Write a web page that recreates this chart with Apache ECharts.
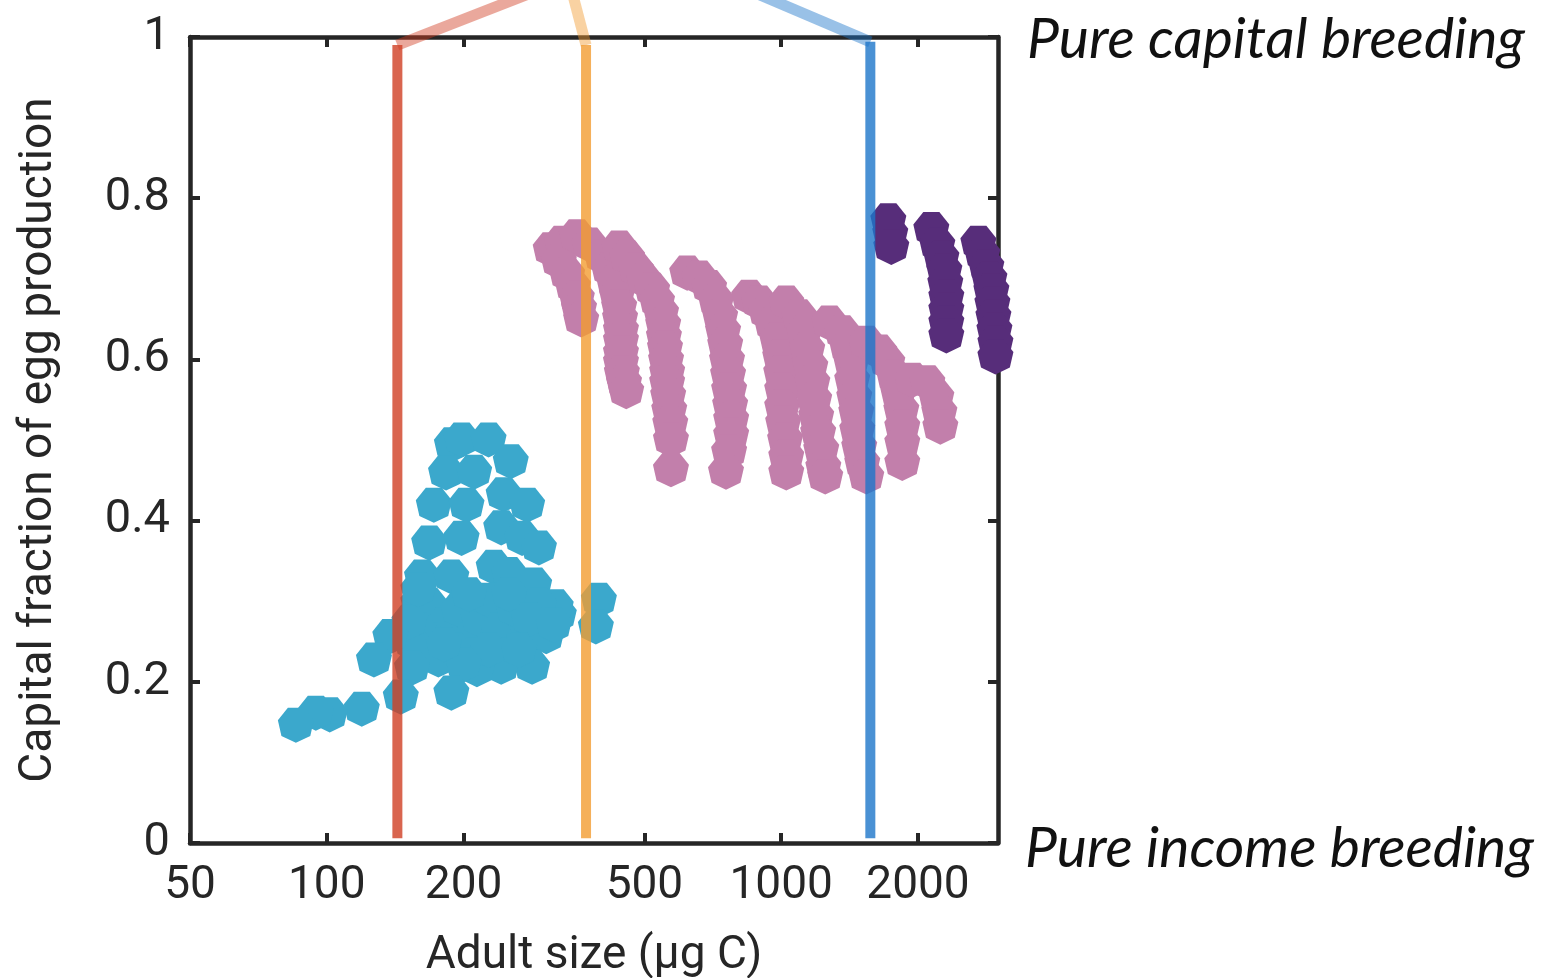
<!DOCTYPE html>
<html>
<head>
<meta charset="utf-8">
<script src="https://cdn.jsdelivr.net/npm/echarts@6.0.0/dist/echarts.min.js"></script>
<style>
  html, body { margin: 0; padding: 0; background: #fff; }
  #chart { width: 1548px; height: 978px; }
</style>
</head>
<body>
<div id="chart"></div>
<script>
// axis ranges and ticks (x in µg C, log scale)
const xMin = 50, xMax = 3000;
const xTicks = [50, 100, 200, 500, 1000, 2000];

// blue-green cloud  [adult size, capital fraction]
const cyanPoints = [
  [188.5, 0.494], [198, 0.500], [227, 0.500], [183, 0.459], [211, 0.460], [254, 0.473],
  [172, 0.419], [203, 0.419], [245, 0.432], [276, 0.419],
  [168, 0.372], [198, 0.378], [242, 0.391], [269, 0.378], [293, 0.366],
  [162, 0.330], [188, 0.330], [233, 0.342], [252, 0.333], [286, 0.320],
  [397, 0.301], [391, 0.268], [324, 0.283], [319, 0.293],
  [159, 0.298], [168, 0.295], [181, 0.270], [195, 0.289], [205.5, 0.252], [216, 0.277],
  [227, 0.301], [239, 0.264], [258, 0.289], [272, 0.252], [293, 0.295], [304, 0.256],
  [190.5, 0.239], [211, 0.233], [252, 0.233], [168, 0.252], [159, 0.264], [154, 0.248],
  [176, 0.227], [154, 0.217], [283, 0.218], [242, 0.218], [214, 0.215], [152, 0.274],
  [159, 0.314], [205.5, 0.308], [252, 0.308], [279, 0.277], [316, 0.270],
  [227, 0.239], [200, 0.221], [265, 0.239], [181, 0.246],
  [188, 0.186], [145.5, 0.181], [138, 0.256], [127, 0.227],
  [119.4, 0.166], [101.5, 0.159], [94.6, 0.161], [85.5, 0.146]
];

// pink hooks, one array per chain
const pinkChain1 = [[311, 0.736], [329, 0.744], [324, 0.721], [338, 0.705], [348, 0.690], [355, 0.676], [359, 0.663], [363, 0.649]];
const pinkChain2 = [[355, 0.752], [378, 0.742], [403, 0.727], [418, 0.711], [429, 0.695], [435, 0.680], [440, 0.665], [442, 0.651],
  [444, 0.636], [444, 0.623], [444, 0.608], [444, 0.596], [446, 0.583], [451, 0.571], [456, 0.560]];
const pinkChain3 = [[440, 0.738], [458, 0.726], [479, 0.711], [499, 0.698], [520, 0.686], [533, 0.672], [544, 0.658], [550, 0.643],
  [552, 0.628], [555, 0.614], [558, 0.599], [561, 0.584], [561, 0.571], [564, 0.555], [567, 0.537], [570, 0.520], [572, 0.500], [572, 0.463]];
const pinkChain4 = [[621, 0.707], [660, 0.701], [694, 0.689], [719, 0.672], [734, 0.653], [745, 0.635], [753, 0.618], [760, 0.599],
  [764, 0.581], [768, 0.562], [772, 0.543], [776, 0.525], [776, 0.506], [768, 0.485], [756, 0.460]];
const pinkChain5 = [[850, 0.677], [894, 0.670], [927, 0.658], [955, 0.643], [980, 0.624], [995, 0.603], [1000, 0.583], [1005, 0.562],
  [1005, 0.541], [1010, 0.521], [1020, 0.500], [1026, 0.479], [1026, 0.459]];
const pinkChain6 = [[1026, 0.670], [1095, 0.653], [1123, 0.633], [1141, 0.612], [1159, 0.591], [1171, 0.571], [1182, 0.550],
  [1194, 0.529], [1206, 0.509], [1225, 0.488], [1238, 0.466], [1250, 0.454]];
const pinkChain7 = [[1276, 0.645], [1362, 0.633], [1398, 0.615], [1427, 0.596], [1433, 0.574], [1448, 0.553], [1463, 0.534],
  [1470, 0.512], [1485, 0.491], [1508, 0.471], [1539, 0.454]];
const pinkChain8 = [[1539, 0.620], [1644, 0.609], [1712, 0.596], [1774, 0.578], [1810, 0.558], [1838, 0.537], [1847, 0.516],
  [1847, 0.496], [1847, 0.471]];
const pinkChain9 = [[1943, 0.574], [2097, 0.571], [2195, 0.553], [2229, 0.534], [2240, 0.516]];

// dark purple hooks
const purpleChain1 = [[1721, 0.772], [1738, 0.756], [1747, 0.739]];
const purpleChain2 = [[2140, 0.761], [2206, 0.742], [2252, 0.726], [2286, 0.710], [2297, 0.694], [2309, 0.677], [2309, 0.661],
  [2309, 0.645], [2309, 0.629]];
const purpleChain3 = [[2716, 0.744], [2771, 0.730], [2828, 0.715], [2872, 0.700], [2901, 0.685], [2916, 0.669], [2931, 0.653],
  [2946, 0.636], [2961, 0.620], [2961, 0.603]];

// vertical size marks and the links leaving the panel
const sizeMarks = [143, 372, 1571];
const markBottom = 0.006;
const markTops = [0.990, 0.990, 0.994];
const linkEnds = [298, 345, 833];
const linkTop = 1.06;

const axisColor = '#262626';
const markColors = ['#d03f23', '#f29c31', '#1d75c9'];
const font = 'Roboto';

const lg = v => Math.log10(v);
const toXY = pts => pts.map(p => [lg(p[0]), p[1]]);

// seven-sided marker, flat side on top
function heptagon() {
  const pts = [];
  for (let k = 0; k < 7; k++) {
    const a = Math.PI / 2 + k * 2 * Math.PI / 7;
    pts.push((50 + 50 * Math.cos(a)).toFixed(2) + ' ' + (50 + 50 * Math.sin(a)).toFixed(2));
  }
  return 'path://M' + pts.join(' L') + ' Z';
}
const hept = heptagon();

function dots(pts, color) {
  return {
    type: 'scatter', data: toXY(pts), symbol: hept, symbolSize: 36, symbolKeepAspect: true,
    itemStyle: { color: color, opacity: 1 }, z: 2, silent: true
  };
}

const tickStyle = { color: axisColor, width: 4 };
const lineStyleAxis = { color: axisColor, width: 4.5 };

const chart = echarts.init(document.getElementById('chart'));

const series = [
  dots(cyanPoints, '#3ba8cc'),
  dots([].concat(pinkChain1, pinkChain2, pinkChain3, pinkChain4, pinkChain5, pinkChain6, pinkChain7, pinkChain8, pinkChain9), '#c27fab'),
  dots([].concat(purpleChain1, purpleChain2, purpleChain3), '#572d7a')
];
sizeMarks.forEach((x, i) => {
  series.push({
    type: 'line', data: [[lg(x), markBottom], [lg(x), markTops[i]]], symbol: 'none', silent: true, z: 4,
    lineStyle: { color: markColors[i], width: 10, opacity: 0.8, cap: 'butt' }
  });
  series.push({
    type: 'line', data: [[lg(x), markTops[i]], [lg(linkEnds[i]), linkTop]], symbol: 'none', silent: true, z: 4,
    clip: false, lineStyle: { color: markColors[i], width: 11, opacity: 0.45, cap: 'butt' }
  });
});

chart.setOption({
  animation: false,
  textStyle: { fontFamily: font },
  grid: { left: 190, right: 550, top: 37, bottom: 135, outerBoundsMode: 'none', containLabel: false },
  xAxis: [{
    type: 'value', min: lg(xMin), max: lg(xMax), position: 'bottom',
    name: 'Adult size (µg C)', nameLocation: 'middle', nameGap: 90,
    nameTextStyle: { fontFamily: font, fontSize: 46, color: axisColor },
    axisLine: { show: true, onZero: false, lineStyle: lineStyleAxis },
    axisTick: { show: true, inside: true, length: 10, lineStyle: tickStyle, customValues: xTicks.map(lg) },
    axisLabel: {
      customValues: xTicks.map(lg), margin: 20, fontFamily: font, fontSize: 46, color: axisColor,
      formatter: v => String(Math.round(Math.pow(10, v)))
    },
    splitLine: { show: false }
  }, {
    type: 'value', min: lg(xMin), max: lg(xMax), position: 'top',
    axisLine: { show: true, onZero: false, lineStyle: lineStyleAxis },
    axisTick: { show: true, inside: true, length: 10, lineStyle: tickStyle, customValues: xTicks.map(lg) },
    axisLabel: { show: false },
    splitLine: { show: false }
  }],
  yAxis: [{
    type: 'value', min: 0, max: 1, interval: 0.2, position: 'left',
    name: 'Capital fraction of egg production', nameLocation: 'middle', nameGap: 128,
    nameTextStyle: { fontFamily: font, fontSize: 46, color: axisColor },
    axisLine: { show: true, onZero: false, lineStyle: lineStyleAxis },
    axisTick: { show: true, inside: true, length: 10, lineStyle: tickStyle },
    axisLabel: { margin: 20, fontFamily: font, fontSize: 47, color: axisColor },
    splitLine: { show: false }
  }, {
    type: 'value', min: 0, max: 1, interval: 0.2, position: 'right',
    axisLine: { show: true, onZero: false, lineStyle: lineStyleAxis },
    axisTick: { show: true, inside: true, length: 10, lineStyle: tickStyle },
    axisLabel: { show: false },
    splitLine: { show: false }
  }],
  graphic: [
    { type: 'text', x: 1027, y: 40, silent: true,
      style: { text: 'Pure capital breeding', font: 'italic 57px Lato', fill: '#111', align: 'left', verticalAlign: 'middle' } },
    { type: 'text', x: 1025, y: 849, silent: true,
      style: { text: 'Pure income breeding', font: 'italic 57px Lato', fill: '#111', align: 'left', verticalAlign: 'middle' } }
  ],
  series: series
});
</script>
</body>
</html>
